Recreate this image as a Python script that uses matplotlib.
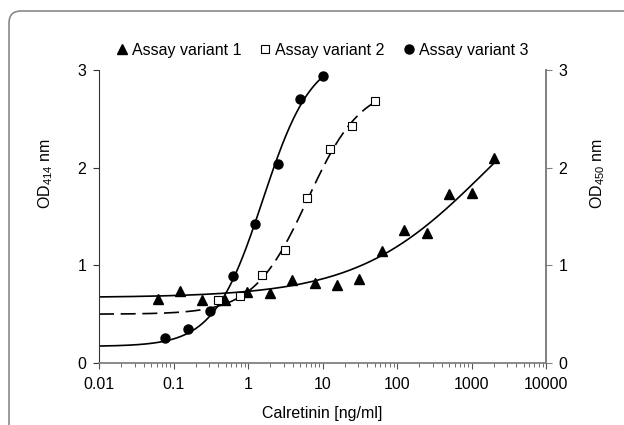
import numpy as np
import matplotlib
matplotlib.use('Agg')
import matplotlib.pyplot as plt
from matplotlib.lines import Line2D
from matplotlib.patches import FancyBboxPatch
from matplotlib.ticker import FixedLocator, LogLocator, FuncFormatter

plt.rcParams['font.family'] = ['Liberation Sans', 'DejaVu Sans']
plt.rcParams['font.size'] = 11.5

# dilution series (ng/ml) and OD readings
conc_1 = [0.061, 0.122, 0.244, 0.488, 0.977, 1.95, 3.91, 7.81, 15.6, 31.25, 62.5, 125, 250, 500, 1000, 2000]
od_1 = [0.66, 0.74, 0.65, 0.64, 0.73, 0.72, 0.85, 0.82, 0.80, 0.86, 1.15, 1.36, 1.33, 1.73, 1.74, 2.10]

conc_2 = [0.39, 0.78, 1.5625, 3.125, 6.25, 12.5, 25, 50]
od_2 = [0.645, 0.69, 0.90, 1.16, 1.69, 2.19, 2.43, 2.68]

conc_3 = [0.078, 0.156, 0.3125, 0.625, 1.25, 2.5, 5, 10]
od_3 = [0.26, 0.345, 0.535, 0.89, 1.42, 2.04, 2.70, 2.94]

# 4-parameter logistic fit parameters (bottom, top, EC50, hill)
fit_1 = (0.67, 3.27, 1585.0, 0.5)
fit_2 = (0.50, 2.85, 6.31, 1.2)
fit_3 = (0.17, 3.17, 1.58, 1.32)


def four_pl(x, p):
    a, d, c, b = p
    return d + (a - d) / (1 + (x / c) ** b)


fig = plt.figure(figsize=(6.24, 4.25), dpi=100)
ax = fig.add_axes([99 / 624, 1 - 363 / 425, 447 / 624, 293 / 425])

# rounded panel frame
frame = FancyBboxPatch((0.09, -0.5), 6.4, 4.64, boxstyle='round,pad=0,rounding_size=0.12',
                       transform=fig.dpi_scale_trans, fill=False, edgecolor='#8a8a8a', linewidth=1.2,
                       zorder=0)
fig.patches.append(frame)

xs = np.logspace(-2, np.log10(2000), 300)
ax.plot(xs, four_pl(xs, fit_1), color='black', lw=1.2)
xs = np.logspace(-2, np.log10(50), 300)
ax.plot(xs, four_pl(xs, fit_2), color='black', lw=1.2, dashes=(9, 4))
xs = np.logspace(-2, np.log10(10), 300)
ax.plot(xs, four_pl(xs, fit_3), color='black', lw=1.2)

ax.plot(conc_1, od_1, '^', color='black', ms=6.8, ls='none', zorder=3)
ax.plot(conc_2, od_2, 's', mfc='white', mec='black', mew=0.8, ms=5.2, ls='none', zorder=3)
ax.plot(conc_3, od_3, 'o', color='black', ms=6.5, ls='none', zorder=3)

ax.set_xscale('log')
ax.set_xlim(0.01, 10000)
ax.set_ylim(0, 3)
ax.set_yticks([0, 1, 2, 3])
ax.xaxis.set_major_locator(FixedLocator([0.01, 0.1, 1, 10, 100, 1000, 10000]))
ax.xaxis.set_minor_locator(LogLocator(base=10, subs=np.arange(2, 10), numticks=20))
ax.xaxis.set_major_formatter(FuncFormatter(lambda v, pos: '%g' % v))

ax.spines['top'].set_visible(False)
ax.spines['left'].set_color('#333333')
ax.spines['bottom'].set_color('#808080')
ax.spines['right'].set_color('#808080')
ax.spines['bottom'].set_linewidth(1.3)
ax.spines['right'].set_linewidth(1.3)
ax.tick_params(axis='x', which='major', length=4, color='#555555', pad=6)
ax.tick_params(axis='x', which='minor', length=3, color='#555555')
ax.tick_params(axis='y', length=4, color='#333333', pad=5)

ax.set_xlabel('Calretinin [ng/ml]', labelpad=10)
ax.set_ylabel('OD$_{\\mathregular{414}}$ nm')
ax.yaxis.set_label_coords(-0.098, 0.648)

ax2 = ax.twinx()
ax2.set_ylim(0, 3)
ax2.set_yticks([0, 1, 2, 3])
ax2.spines['top'].set_visible(False)
ax2.spines['left'].set_visible(False)
ax2.spines['bottom'].set_visible(False)
ax2.spines['right'].set_color('#808080')
ax2.spines['right'].set_linewidth(1.3)
ax2.tick_params(axis='y', length=4, color='#808080', pad=5)
ax2.set_ylabel('OD$_{\\mathregular{450}}$ nm')
ax2.yaxis.set_label_coords(1.094, 0.648)

handles = [
    Line2D([], [], marker='^', color='black', ls='none', ms=6.5),
    Line2D([], [], marker='s', mfc='white', mec='black', mew=0.8, ls='none', ms=5.2),
    Line2D([], [], marker='o', color='black', ls='none', ms=6.5),
]
ax.legend(handles, ['Assay variant 1', 'Assay variant 2', 'Assay variant 3'], ncol=3,
          loc='center', bbox_to_anchor=(0.5, 1.068), frameon=False,
          handlelength=0.6, handletextpad=0.33, columnspacing=1.2, borderaxespad=0)

fig.savefig('out.png', dpi=100)
